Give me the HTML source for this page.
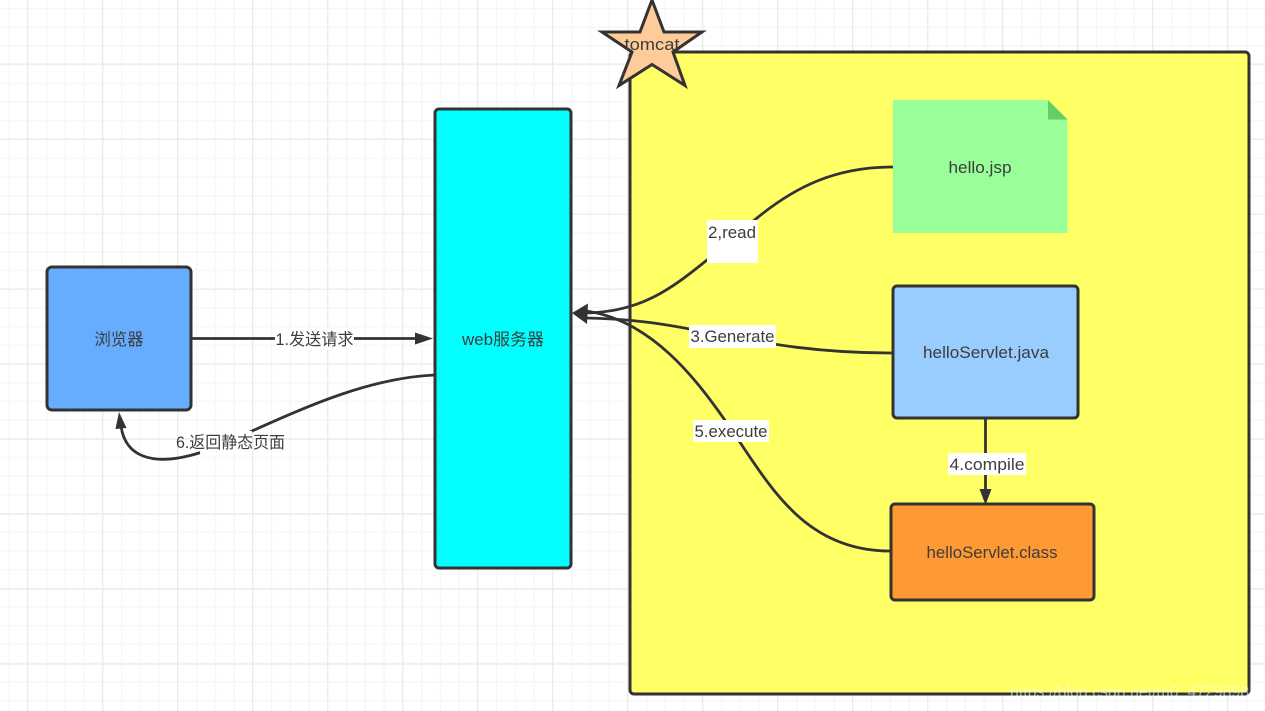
<!DOCTYPE html>
<html>
<head>
<meta charset="utf-8">
<style>
html,body{margin:0;padding:0;background:#fff;width:1265px;height:711px;overflow:hidden}
svg{display:block}
text{font-family:"Liberation Sans","Noto Sans CJK SC",sans-serif;font-size:16.5px;fill:#3d3d3d;text-anchor:middle}
</style>
</head>
<body>
<svg width="1265" height="711" viewBox="0 0 1265 711" xmlns="http://www.w3.org/2000/svg">
<defs>
<pattern id="minor" x="8.5" y="8" width="18.75" height="18.7" patternUnits="userSpaceOnUse">
<path d="M0.5 0V18.7M0 0.5H18.75" stroke="#f6f6f6" stroke-width="1.5" fill="none"/>
</pattern>
<pattern id="major" x="27" y="63.5" width="75" height="75" patternUnits="userSpaceOnUse">
<path d="M0.5 0V75M0 0.5H75" stroke="#ebebeb" stroke-width="1.5" fill="none"/>
</pattern>
</defs>
<rect width="1265" height="711" fill="#fff"/>
<rect width="1265" height="711" fill="url(#minor)"/>
<rect width="1265" height="711" fill="url(#major)"/>

<!-- tomcat container -->
<rect x="630" y="52" width="619" height="642" rx="4" fill="#ffff66" stroke="#333" stroke-width="3"/>
<polygon points="652,0 664,32 702,32 673,52 685,85.5 652,64.5 619,85.5 632,52 602,32 640,32" fill="#ffcc99" stroke="#333" stroke-width="3" stroke-linejoin="miter"/>
<text x="652" y="50" textLength="55" lengthAdjust="spacingAndGlyphs">tomcat</text>

<!-- web server -->
<rect x="435" y="109" width="136" height="459" rx="4" fill="#00ffff" stroke="#333" stroke-width="3"/>
<text x="503" y="345" textLength="82" lengthAdjust="spacingAndGlyphs">web服务器</text>

<!-- browser -->
<rect x="47" y="267" width="144" height="143" rx="5" fill="#66adff" stroke="#333" stroke-width="3"/>
<text x="119" y="345" textLength="49" lengthAdjust="spacingAndGlyphs">浏览器</text>

<!-- hello.jsp -->
<polygon points="893,100 1048,100 1067.5,119.5 1067.5,233 893,233" fill="#99ff99"/>
<polygon points="1048,100 1067.5,119.5 1048,119.5" fill="#66cc66"/>
<text x="980" y="173" textLength="63" lengthAdjust="spacingAndGlyphs">hello.jsp</text>

<!-- java -->
<rect x="893" y="286" width="185" height="132" rx="4" fill="#99ccff" stroke="#333" stroke-width="3"/>
<text x="986" y="358" textLength="126" lengthAdjust="spacingAndGlyphs">helloServlet.java</text>

<!-- class -->
<rect x="891" y="504" width="203" height="96" rx="4" fill="#ff9933" stroke="#333" stroke-width="3"/>
<text x="992" y="558" textLength="131" lengthAdjust="spacingAndGlyphs">helloServlet.class</text>

<!-- connectors -->
<g fill="none" stroke="#333" stroke-width="2.8">
<path d="M192,338.5H422"/>
<path d="M434,375C372,378 312,404 252,431C232,440 215,448 199,453C150,468 125,455 121,426"/>
<path d="M893,167C835,167 795,187 757,218C735,236 722,248 707,260C670,290 640,312 586,313"/>
<path d="M892,353C810,353 760,342 700,331C660,323 630,319 586,318"/>
<path d="M890,551C805,551 770,486 735,435C695,375 650,320 586,311"/>
<path d="M985.5,419V495"/>
</g>
<g fill="#333">
<polygon points="433,338.5 415,332.5 415,344.5"/>
<polygon points="119,412 115.5,429 126.5,428"/>
<polygon points="572,313 588,303.5 587,324"/>
<polygon points="985.5,505 979.5,489 991.5,489"/>
</g>

<!-- labels -->
<rect x="275" y="328" width="79" height="22" fill="#fff"/>
<text x="314.5" y="345" textLength="78" lengthAdjust="spacingAndGlyphs">1.发送请求</text>

<rect x="200" y="431" width="52" height="23" fill="#fff"/>
<text x="230.5" y="448" textLength="109" lengthAdjust="spacingAndGlyphs">6.返回静态页面</text>

<rect x="707" y="220" width="51" height="43" fill="#fff"/>
<text x="732" y="238" textLength="48" lengthAdjust="spacingAndGlyphs">2,read</text>

<rect x="689" y="325" width="87" height="23" fill="#fff"/>
<text x="732.5" y="342" textLength="84" lengthAdjust="spacingAndGlyphs">3.Generate</text>

<rect x="693" y="420" width="76" height="22" fill="#fff"/>
<text x="731" y="437" textLength="73" lengthAdjust="spacingAndGlyphs">5.execute</text>

<rect x="948" y="453" width="78" height="22" fill="#fff"/>
<text x="987" y="470" textLength="75" lengthAdjust="spacingAndGlyphs">4.compile</text>

<!-- watermark -->
<text x="1134" y="697" textLength="248" lengthAdjust="spacingAndGlyphs" style="fill:#ffffff;fill-opacity:.55;font-size:16px">https://blog.csdn.net/m0_47298981</text>
</svg>
</body>
</html>
